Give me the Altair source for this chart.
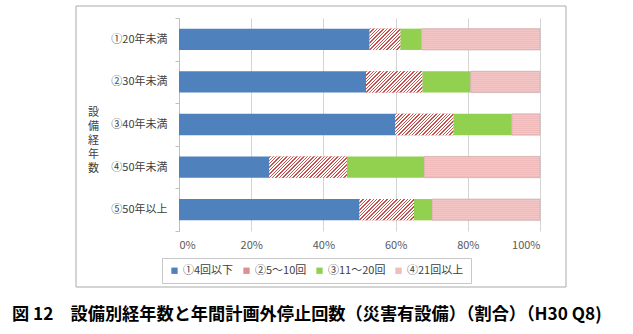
import altair as alt
import pandas as pd

# ---- data ----
rows = ["①20年未満", "②30年未満", "③40年未満", "④50年未満", "⑤50年以上"]
cats = ["①4回以下", "②5～10回", "③11～20回", "④21回以上"]
s_le4 = [52.8, 51.8, 59.9, 25.0, 50.0]
s_5to10 = [8.5, 15.6, 16.1, 21.5, 15.1]
s_11to20 = [5.9, 13.4, 16.2, 21.4, 5.0]
s_ge21 = [32.8, 19.2, 7.8, 32.1, 29.9]
x_ticks = [0, 0.2, 0.4, 0.6, 0.8, 1.0]
y_title = ["設", "備", "経", "年", "数"]
caption = "図 12　設備別経年数と年間計画外停止回数（災害有設備）（割合）（H30 Q8)"

# ---- layout / style ----
FONT = "Noto Sans CJK JP"
PW, PH = 361, 213
PL, PT = 179, 18
BAR_H = PH / len(rows) * 0.5
legend_colors = ["#4f81bd", "#dd908e", "#92d050", "#f0bcbc"]
HATCH_RED = "#c8504c"
DOT_BASE = "#f4c6c6"
DOT_INK = "rgba(214,80,80,0.10)"
CLEAR = "rgba(255,255,255,0)"

series = [s_le4, s_5to10, s_11to20, s_ge21]
recs = []
for i, r in enumerate(rows):
    acc = 0.0
    for j, c in enumerate(cats):
        v = series[j][i] / 100.0
        recs.append({"row": r, "cat": c, "start": acc, "end": acc + v})
        acc += v
df = pd.DataFrame(recs)


def stripe_stops(pt, duty, c_on, c_off):
    stops = []
    k = 0
    while k * pt < 1:
        a = k * pt
        b = min(a + duty * pt, 1.0)
        e = min(a + pt, 1.0)
        stops += [
            {"offset": round(a, 5), "color": c_on},
            {"offset": round(b, 5), "color": c_on},
            {"offset": round(b, 5), "color": c_off},
            {"offset": round(e, 5), "color": c_off},
        ]
        k += 1
    return stops


xscale = alt.Scale(domain=[0, 1], nice=False, zero=True)
yscale = alt.Scale(domain=rows, paddingInner=0, paddingOuter=0)
xaxis = alt.Axis(
    format=".0%", values=x_ticks, grid=True, gridColor="#d4d4d4",
    domain=False, ticks=False, labelPadding=8, labelFont=FONT,
    labelFontSize=11, labelColor="#595959", title=None,
)
yaxis = alt.Axis(
    title=y_title, titleAngle=0, titleX=-86, titleY=94,
    titleAlign="center", titleBaseline="middle", titleFontSize=11,
    titleFontWeight="normal", titleColor="#404040", titleLineHeight=14,
    titleFont=FONT, labelFont=FONT, labelFontSize=11, labelColor="#404040",
    labelPadding=8, tickBand="extent", tickSize=4, tickColor="#bfbfbf",
    domainColor="#bfbfbf", grid=False,
)
X = alt.X("start:Q", scale=xscale, axis=xaxis)
Y = alt.Y("row:N", sort=rows, scale=yscale, axis=yaxis)

base = alt.Chart(df).mark_bar(height={"band": 0.5}).encode(
    x=X,
    x2="end:Q",
    y=Y,
    color=alt.Color(
        "cat:N",
        scale=alt.Scale(domain=cats, range=legend_colors),
        legend=alt.Legend(
            orient="none", legendX=-17, legendY=240, direction="horizontal",
            columns=4, title=None, symbolType="square", symbolSize=40,
            symbolStrokeWidth=0, labelFont=FONT, labelFontSize=11,
            labelColor="#404040", strokeColor="#c8c8c8", padding=7,
            columnPadding=7, labelOffset=3,
        ),
    ),
)


def overlay(cat, row=None, fill=None, stroke=None):
    cond = alt.datum.cat == cat
    if row is not None:
        cond = cond & (alt.datum.row == row)
    kw = {"height": {"band": 0.5}, "fill": fill}
    if stroke:
        kw.update(stroke=stroke, strokeWidth=0.6)
    return alt.Chart(df).transform_filter(cond).mark_bar(**kw).encode(
        x=X, x2="end:Q", y=Y,
    )


layers = [base]

# diagonal hatch for ②
for i, r in enumerate(rows):
    W = s_5to10[i] / 100.0 * PW
    H = BAR_H
    den = W * W + H * H
    grad = {
        "gradient": "linear",
        "x1": 0, "y1": 0,
        "x2": W * (W + H) / den, "y2": H * (W + H) / den,
        "stops": stripe_stops(3.4 / (W + H), 0.42, HATCH_RED, "#ffffff"),
    }
    layers.append(overlay(cats[1], r, grad))

# fine dotted look for ④ (pink base with a faint horizontal grain)
hgrad = {
    "gradient": "linear", "x1": 0, "y1": 0, "x2": 0, "y2": 1,
    "stops": stripe_stops(2.0 / BAR_H, 0.5, DOT_INK, CLEAR),
}
layers.append(overlay(cats[3], None, DOT_BASE))
layers.append(overlay(cats[3], None, hgrad, stroke="#caa9a9"))

# outer frame of the chart
frame_df = pd.DataFrame({"k": [0]})
frame = alt.Chart(frame_df).mark_rect(filled=False, stroke="#aaaaaa", strokeWidth=1).encode(
    x=alt.value(76 - PL), x2=alt.value(566 - PL),
    y=alt.value(6 - PT), y2=alt.value(287 - PT),
)
layers.append(frame)

cap_df = pd.DataFrame({"t": [caption]})
cap = alt.Chart(cap_df).mark_text(
    align="left", baseline="middle", font=FONT, fontSize=17.2,
    fontWeight="bold", color="#000000",
).encode(x=alt.value(12 - PL), y=alt.value(315 - PT), text="t:N")
layers.append(cap)

chart = alt.layer(*layers).properties(
    width=PW, height=PH,
    padding={"left": PL, "top": PT, "right": 633 - PL - PW, "bottom": 334 - PT - PH},
    autosize=alt.AutoSizeParams(type="none"),
    background="white",
).configure_view(stroke=None)

chart.save("out.html", embed_options={"renderer": "svg", "actions": False})
